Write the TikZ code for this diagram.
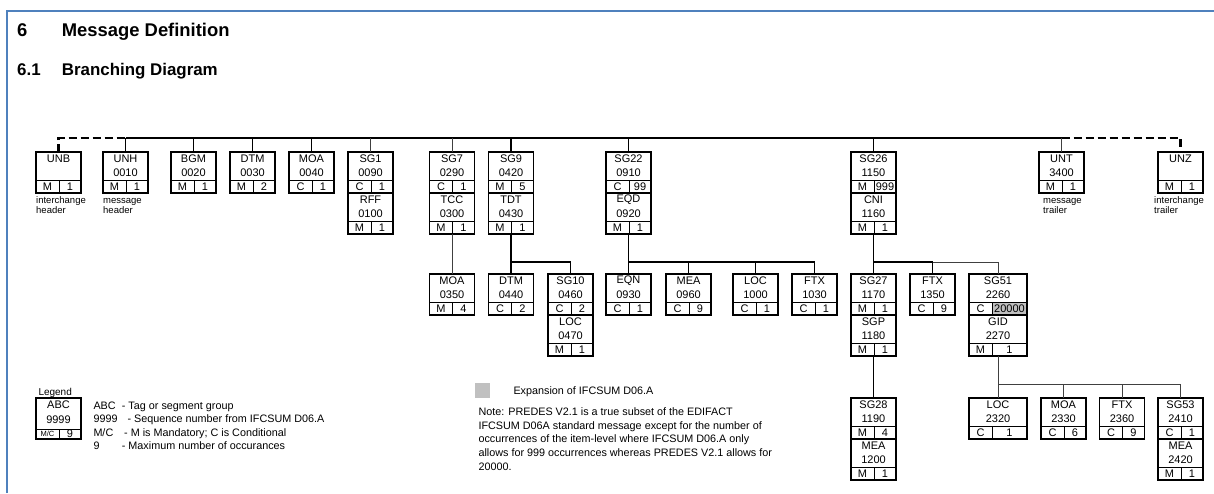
\documentclass[tikz,border=0pt]{standalone}
\usepackage{fontspec}
\setmainfont{Liberation Sans}
\usetikzlibrary{positioning}
\definecolor{frameblue}{RGB}{79,129,189}
\definecolor{expgrey}{RGB}{192,192,192}
\tikzset{
  segbox/.style={draw, line width=1.3pt, minimum height=41pt, inner sep=0pt, outer sep=0pt, anchor=north west},
  cell/.style={line width=0.9pt},
  boxtext/.style={font=\fontsize{11}{12}\selectfont, inner sep=0pt},
  trunkline/.style={line width=2.2pt},
  dashline/.style={line width=2.2pt, dash pattern=on 8pt off 4pt},
  link/.style={line width=1.8pt},
  thinlink/.style={line width=1pt, black!75},
  undertext/.style={font=\fontsize{9.5}{10}\selectfont, inner sep=0pt, anchor=base west},
  legendtext/.style={font=\fontsize{10.8}{12}\selectfont, inner sep=0pt, anchor=base west},
  heading/.style={inner sep=0pt, anchor=base west},
  frame/.style={frameblue, line width=2pt}
}
% [width]{name}{x}{y}{tag}{seq}{status}{repeat}
\newcommand{\segbox}[8][45]{%
  \node[segbox, minimum width=#1pt] (#2) at (#3,#4) {};
  \draw[cell] ([yshift=-28pt]#2.north west) -- ([yshift=-28pt]#2.north east);
  \draw[cell] ([shift={(23pt,-28pt)}]#2.north west) -- ([xshift=23pt]#2.south west);
  \node[boxtext] (#2-tag) at ([yshift=-7pt]#2.north) {#5};
  \node[boxtext] (#2-seq) at ([yshift=-20.5pt]#2.north) {#6};
  \node[boxtext] (#2-st) at ([shift={(11.5pt,6.5pt)}]#2.south west) {#7};
  \node[boxtext] (#2-rep) at ([shift={({(#1+23)/2*1pt},6.5pt)}]#2.south west) {#8};
}
\newcommand{\boxnote}[4][0]{%
  \node[undertext] (#2-la) at ([shift={(#1pt,-10.3pt)}]#2.south west) {#3};
  \node[undertext] (#2-lb) at ([shift={(#1pt,-20.3pt)}]#2.south west) {#4};
}

\begin{document}
\begin{tikzpicture}[x=1pt,y=-1pt]
  \useasboundingbox (0,0) rectangle (1214,493);
  \draw[frame] (6.5,493) -- (6.5,11) -- (1214,11);

  % headings
  \node[heading, font=\fontsize{18.4}{20}\selectfont\bfseries] (secnum) at (17,36) {6};
  \node[heading, font=\fontsize{18.4}{20}\selectfont\bfseries] (sectitle) at (61.7,36) {Message Definition};
  \node[heading, font=\fontsize{16.9}{18}\selectfont\bfseries] (subnum) at (17,75) {6.1};
  \node[heading, font=\fontsize{16.9}{18}\selectfont\bfseries] (subtitle) at (61.7,75) {Branching Diagram};

  % top level
  \segbox{unb}{36}{152}{UNB}{}{M}{1}
  \segbox{unh}{103}{152}{UNH}{0010}{M}{1}
  \segbox{bgm}{171}{152}{BGM}{0020}{M}{1}
  \segbox{dtm}{230}{152}{DTM}{0030}{M}{2}
  \segbox{moa}{289}{152}{MOA}{0040}{C}{1}
  \segbox{sg1}{348}{152}{SG1}{0090}{C}{1}
  \segbox{rff}{348}{193}{RFF}{0100}{M}{1}
  \segbox{sg7}{429.5}{152}{SG7}{0290}{C}{1}
  \segbox{tcc}{429.5}{193}{TCC}{0300}{M}{1}
  \segbox{sg9}{488.5}{152}{SG9}{0420}{M}{5}
  \segbox{tdt}{488.5}{193}{TDT}{0430}{M}{1}
  \segbox{sg22}{606}{152}{SG22}{0910}{C}{99}
  \segbox{eqd}{606}{193}{EQD}{0920}{M}{1}
  \segbox{sg26}{851}{152}{SG26}{1150}{M}{999}
  \segbox{cni}{851}{193}{CNI}{1160}{M}{1}
  \segbox{unt}{1039}{152}{UNT}{3400}{M}{1}
  \segbox{unz}{1158}{152}{UNZ}{}{M}{1}
  \boxnote{unb}{interchange}{header}
  \boxnote{unh}{message}{header}
  \boxnote[4]{unt}{message}{trailer}
  \boxnote[-4]{unz}{interchange}{trailer}

  % second level
  \segbox{moa350}{429.5}{274}{MOA}{0350}{M}{4}
  \segbox{dtm440}{488.5}{274}{DTM}{0440}{C}{2}
  \segbox{sg10}{548}{274}{SG10}{0460}{C}{2}
  \segbox{loc470}{548}{315}{LOC}{0470}{M}{1}
  \segbox{eqn}{606}{274}{EQN}{0930}{C}{1}
  \segbox{mea960}{666}{274}{MEA}{0960}{C}{9}
  \segbox{loc1000}{733}{274}{LOC}{1000}{C}{1}
  \segbox{ftx1030}{792}{274}{FTX}{1030}{C}{1}
  \segbox{sg27}{851}{274}{SG27}{1170}{M}{1}
  \segbox{sgp}{851}{315}{SGP}{1180}{M}{1}
  \segbox{ftx1350}{910}{274}{FTX}{1350}{C}{9}
  \fill[expgrey] (992,302) rectangle (1027,315);
  \segbox[58]{sg51}{969}{274}{SG51}{2260}{C}{20000}
  \segbox[58]{gid}{969}{315}{GID}{2270}{M}{1}

  % third level
  \segbox{sg28}{851}{398}{SG28}{1190}{M}{4}
  \segbox{mea1200}{851}{439}{MEA}{1200}{M}{1}
  \segbox[58]{loc2320}{969}{398}{LOC}{2320}{C}{1}
  \segbox{moa2330}{1041}{398}{MOA}{2330}{C}{6}
  \segbox{ftx2360}{1099.5}{398}{FTX}{2360}{C}{9}
  \segbox{sg53}{1158}{398}{SG53}{2410}{C}{1}
  \segbox{mea2420}{1158}{439}{MEA}{2420}{M}{1}

  % connectors
  \coordinate (trunk) at (0,138);
  \coordinate (bustwo) at (0,262);
  \coordinate (busthree) at (0,384);
  \draw[dashline] (unb.north) |- (unh.north |- trunk);
  \draw[trunkline] (unh.north |- trunk) -- (unt.north |- trunk);
  \draw[dashline] (unt.north |- trunk) -| (unz.north);
  \foreach \n in {unh,bgm,dtm,moa,sg9,sg22,sg26}
    \draw[link] (\n.north |- trunk) -- (\n.north);
  \foreach \n in {sg1,sg7,unt}
    \draw[thinlink] (\n.north |- trunk) -- (\n.north);

  \draw[thinlink] (tcc.south) -- (moa350.north);
  \draw[link] (tdt.south) -- (dtm440.north);
  \draw[link] (tdt.south |- bustwo) -| (sg10.north);
  \draw[link] (eqd.south) -- (eqn.north);
  \draw[link] (eqd.south |- bustwo) -| (ftx1030.north);
  \foreach \n in {mea960,loc1000}
    \draw[link] (\n.north |- bustwo) -- (\n.north);
  \draw[link] (cni.south) -- (sg27.north);
  \draw[link] (cni.south |- bustwo) -| (ftx1350.north);
  \draw[thinlink] (ftx1350.north |- bustwo) -| (sg51.north);
  \draw[link] (sgp.south) -- (sg28.north);
  \draw[thinlink] (gid.south) -- (loc2320.north);
  \draw[thinlink] (gid.south |- busthree) -| (sg53.north);
  \foreach \n in {moa2330,ftx2360}
    \draw[thinlink] (\n.north |- busthree) -- (\n.north);

  % legend
  \node[legendtext, font=\fontsize{10}{12}\selectfont] (legendhead) at (38.3,395) {Legend};
  \node[segbox, minimum width=45pt] (legend) at (36,398) {};
  \draw[cell] ([yshift=-31pt]legend.north west) -- ([yshift=-31pt]legend.north east);
  \draw[cell] ([shift={(23pt,-31pt)}]legend.north west) -- ([xshift=23pt]legend.south west);
  \node[boxtext] (legend-tag) at ([yshift=-6.3pt]legend.north) {ABC};
  \node[boxtext] (legend-seq) at ([yshift=-21.3pt]legend.north) {9999};
  \node[boxtext, font=\fontsize{7.5}{9}\selectfont] (legend-st) at ([shift={(11.5pt,5pt)}]legend.south west) {M/C};
  \node[boxtext] (legend-rep) at ([shift={(34pt,5pt)}]legend.south west) {9};
  \node[legendtext] (keya) at (93.3,409) {ABC};
  \node[legendtext] (desca) at (121.7,409) {- Tag or segment group};
  \node[legendtext] (keyb) at (93.3,422.6) {9999};
  \node[legendtext] (descb) at (127.3,422.6) {- Sequence number from IFCSUM D06.A};
  \node[legendtext] (keyc) at (93.3,436.2) {M/C};
  \node[legendtext] (descc) at (124,436.2) {- M is Mandatory; C is Conditional};
  \node[legendtext] (keyd) at (93.3,449.8) {9};
  \node[legendtext] (descd) at (121.7,449.8) {- Maximum number of occurances};

  % expansion note
  \fill[expgrey] (475,383) rectangle (490,398);
  \node[legendtext] (expansion) at (513.3,394.5) {Expansion of IFCSUM D06.A};
  \node[legendtext] (notea) at (478.3,415.5) {Note: PREDES V2.1 is a true subset of the EDIFACT};
  \node[legendtext] (noteb) at (478.3,429.2) {IFCSUM D06A standard message except for the number of};
  \node[legendtext] (notec) at (478.3,442.9) {occurrences of the item-level where IFCSUM D06.A only};
  \node[legendtext] (noted) at (478.3,456.6) {allows for 999 occurrences whereas PREDES V2.1 allows for};
  \node[legendtext] (notee) at (478.3,470.3) {20000.};
\end{tikzpicture}
\end{document}
